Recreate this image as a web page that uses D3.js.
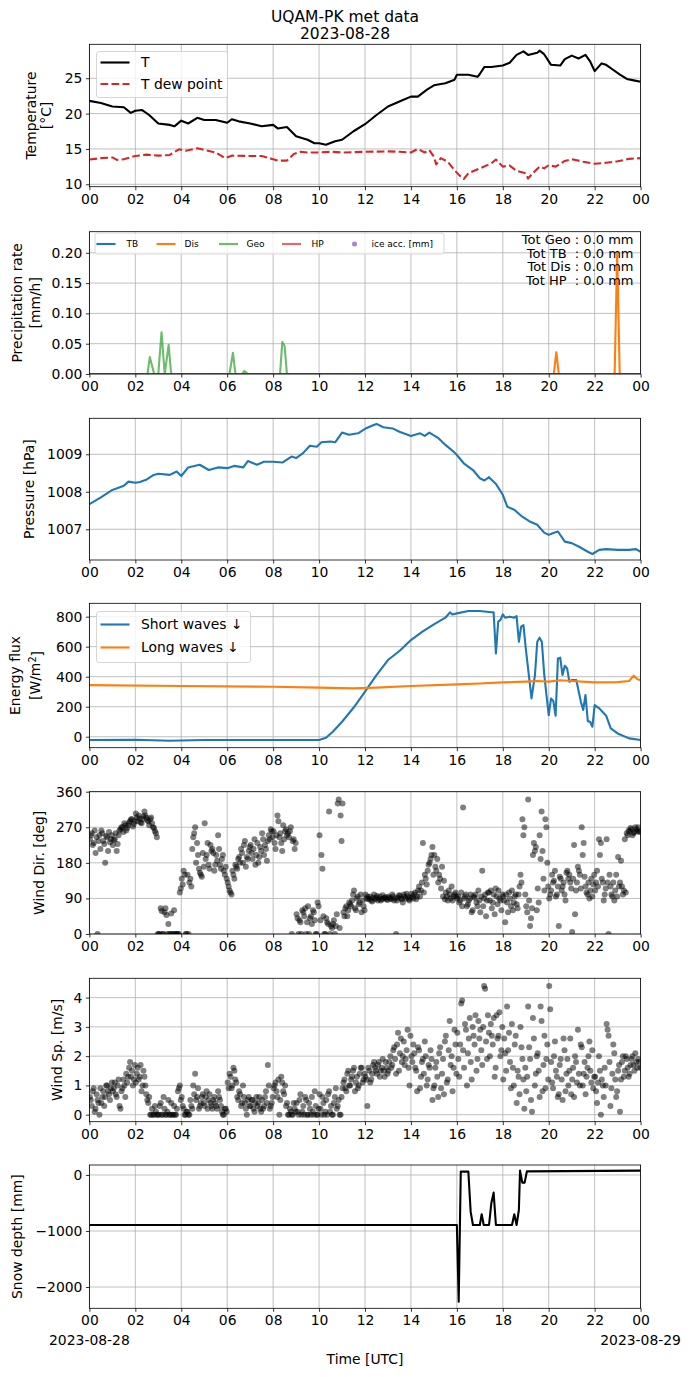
<!DOCTYPE html>
<html>
<head>
<meta charset="utf-8">
<script src="https://cdn.jsdelivr.net/npm/d3@7"></script>
<style>body{margin:0;background:#fff}</style>
</head>
<body>
<div id="chart"></div>
<script>
// ---- data (hours UTC) ----
var tHours = [0,0.5,1,1.5,1.8,2,2.3,2.6,3,3.5,3.7,4,4.3,4.7,5,5.5,6,6.2,6.5,7,7.5,8,8.2,8.6,9,9.5,9.8,10,10.3,10.7,11,11.5,12,12.5,13,13.5,14,14.3,14.7,15,15.5,15.9,16,16.5,16.9,17,17.2,17.5,18,18.3,18.6,18.9,19.1,19.5,19.6,19.8,20.1,20.5,20.7,21,21.3,21.6,21.8,22,22.3,22.5,22.8,23.1,23.4,23.7,24];
var tAir = [21.8,21.5,21.0,20.9,20.1,20.4,20.5,19.8,18.6,18.4,18.2,19.0,18.6,19.4,19.1,19.1,18.7,19.2,18.9,18.6,18.2,18.4,17.9,18.1,16.8,16.3,15.8,15.8,15.6,16.1,16.3,17.5,18.5,19.8,21.0,21.7,22.4,22.4,23.4,24.0,24.3,24.8,25.5,25.5,25.2,25.6,26.6,26.6,26.8,27.2,28.3,28.8,28.3,28.6,28.9,28.4,26.9,26.8,27.7,28.2,27.8,28.3,27.4,26.0,27.1,26.9,26.2,25.5,24.9,24.7,24.5];

var dewHours = [0,0.5,1,1.2,1.5,2,2.5,3,3.5,3.9,4.2,4.7,5,5.5,5.9,6.2,7,7.5,8,8.2,8.6,8.9,9.2,9.5,10,10.5,11,12,13,13.5,14,14.3,14.6,14.8,15,15.1,15.3,15.6,15.9,16.1,16.3,16.5,17,17.5,17.7,18,18.3,18.6,19,19.1,19.3,19.6,19.8,20,20.3,20.7,21,21.5,22,22.5,23,23.5,24];
var tDew = [13.5,13.7,13.8,13.45,13.55,14.0,14.2,14.05,14.15,14.95,14.75,15.1,14.85,14.5,13.7,14.05,14.0,14.0,13.55,13.35,13.35,14.3,14.6,14.5,14.5,14.6,14.5,14.6,14.65,14.6,14.5,15.0,14.5,14.85,13.9,12.8,13.7,13.2,12.0,11.3,10.75,11.55,12.25,12.95,13.5,12.5,12.65,11.9,11.55,10.8,11.55,12.5,12.25,12.7,12.5,13.3,13.55,13.2,12.9,13.05,13.25,13.6,13.7];

var geoHours = [0,2.53,2.63,2.82,3.0,3.14,3.28,3.45,3.56,6.1,6.25,6.36,6.65,6.75,6.9,8.3,8.4,8.5,8.6,24];
var geoRate  = [0,0,0.028,0,0,0.069,0,0.048,0,0,0.035,0,0,0.005,0,0,0.053,0.046,0,0];
var disHours = [0,20.22,20.33,20.44,22.87,22.98,23.09,24];
var disRate  = [0,0,0.036,0,0,0.2,0,0];
var tbHours = [0,24], tbRate = [0,0];
var hpHours = [0,24], hpRate = [0,0];
var totLines = ["Tot Geo : 0.0 mm","Tot TB  : 0.0 mm","Tot Dis : 0.0 mm","Tot HP  : 0.0 mm"];

var presHours = [0,0.5,1,1.5,1.7,2,2.2,2.5,2.8,3,3.5,3.8,4,4.3,4.8,5.2,5.6,6,6.3,6.7,6.9,7.3,7.6,8,8.4,8.8,9,9.3,9.6,9.9,10.1,10.5,10.7,11,11.3,11.7,12,12.3,12.5,12.8,13.2,13.5,14,14.4,14.6,14.8,15.2,15.5,15.8,16,16.3,16.7,17,17.2,17.4,17.7,18,18.2,18.5,18.8,19.2,19.5,19.8,20,20.2,20.4,20.7,21,21.3,21.7,21.9,22.2,22.5,23,23.5,23.8,24];
var pres = [1007.67,1007.85,1008.05,1008.16,1008.27,1008.24,1008.26,1008.33,1008.45,1008.48,1008.45,1008.54,1008.42,1008.65,1008.72,1008.58,1008.65,1008.63,1008.69,1008.65,1008.82,1008.72,1008.8,1008.8,1008.78,1008.94,1008.9,1009.03,1009.23,1009.2,1009.32,1009.34,1009.32,1009.58,1009.52,1009.56,1009.68,1009.76,1009.81,1009.72,1009.69,1009.6,1009.49,1009.56,1009.49,1009.58,1009.43,1009.25,1009.1,1008.98,1008.76,1008.58,1008.36,1008.3,1008.39,1008.21,1007.92,1007.6,1007.52,1007.36,1007.2,1007.12,1006.91,1006.85,1006.9,1006.94,1006.67,1006.63,1006.54,1006.4,1006.34,1006.45,1006.47,1006.45,1006.45,1006.47,1006.4];

var swHours = [0,2,3.5,5,8,10,10.3,10.6,11,11.5,12,12.5,13,13.5,14,14.5,15,15.5,15.7,15.8,16,16.5,17,17.5,17.6,17.7,17.8,17.9,18,18.1,18.3,18.5,18.6,18.7,18.8,18.9,19,19.1,19.25,19.4,19.5,19.6,19.7,19.8,19.9,20,20.1,20.2,20.3,20.4,20.5,20.6,20.7,20.8,20.9,21,21.2,21.4,21.5,21.6,21.7,21.8,21.9,22,22.2,22.5,22.7,23,23.5,24];
var swDown = [-22,-20,-27,-22,-22,-22,-7,33,100,193,300,411,511,571,644,700,749,793,829,815,822,838,838,829,829,555,767,778,815,793,800,793,804,633,733,744,589,455,255,411,633,660,633,422,278,144,255,238,140,522,527,411,473,455,366,378,378,233,178,278,104,100,67,211,189,140,56,22,-11,-22];
var lwHours = [0,4,8,10,11.5,12.5,14,16,17,18,19,19.5,20,20.5,21,22,23,23.5,23.7,23.85,24];
var lwDown = [344,338,333,327,322,327,338,349,355,362,367,371,367,376,371,362,364,371,407,384,376];

// wind: two samples in every 5-minute slot (12 slots per hour)
var windDirA = [
  240,255,230,205,0,250,262,235,180,245,258,240,
  225,240,210,250,265,270,280,262,275,285,290,278,
  305,285,292,280,298,300,288,275,295,270,260,245,
  0,65,0,55,48,25,0,0,60,0,0,105,
  140,160,0,150,130,120,245,270,230,165,150,205,
  280,200,175,225,215,160,200,250,175,190,160,170,
  130,110,100,150,175,165,195,215,180,235,195,210,
  225,190,240,200,180,220,255,200,215,235,240,260,
  260,215,300,245,230,275,260,250,245,270,235,215,
  50,0,30,60,45,0,70,40,25,55,0,80,
  250,200,45,0,30,310,20,25,0,50,340,300,
  330,45,70,60,75,85,110,60,95,80,55,70,
  100,95,90,85,92,88,96,90,85,98,92,88,
  95,90,100,85,0,92,97,88,100,90,95,85,
  102,90,105,95,120,110,230,150,125,175,190,220,
  200,160,130,140,170,135,105,85,100,120,95,105,
  90,80,105,320,95,70,85,100,60,92,80,110,
  55,160,90,45,105,85,65,100,115,75,90,60,
  95,30,80,105,70,60,95,75,100,150,290,270,
  70,340,20,65,230,220,115,250,310,140,290,180,
  90,110,130,160,100,20,140,120,100,155,140,130,
  5,225,110,170,150,270,230,120,100,90,140,125,
  110,160,240,230,130,100,240,0,120,95,85,150,
  195,130,120,110,105,250,260,265,255,270,260,258];
var windDirB = [
  250,225,262,245,235,215,255,228,248,210,232,250,
  238,255,228,262,270,258,275,268,282,290,272,285,
  295,300,282,290,310,294,285,290,280,268,255,0,
  0,58,0,65,0,0,52,0,0,0,0,115,
  125,150,0,0,140,215,255,180,200,155,145,170,
  190,230,165,210,205,175,185,215,165,200,150,140,
  120,105,160,140,170,190,180,205,225,170,190,220,
  205,215,175,230,195,210,240,225,185,250,265,245,
  230,250,285,255,210,240,265,255,260,0,240,230,
  40,35,0,55,65,30,0,45,60,35,0,70,
  35,165,0,40,25,0,15,35,20,330,15,235,
  55,65,45,80,70,100,65,90,75,100,85,60,
  90,88,95,82,100,92,85,95,88,90,93,86,
  92,88,95,90,85,98,90,80,95,102,88,92,
  95,100,88,110,95,130,105,140,160,180,200,150,
  170,190,150,115,95,88,95,110,90,85,100,95,
  95,85,70,90,100,75,90,55,95,100,70,85,
  95,70,100,85,105,110,80,50,95,110,85,100,
  85,100,55,90,110,80,100,65,120,130,250,100,
  55,85,40,200,210,60,80,190,210,110,270,120,
  100,150,135,95,120,145,110,130,85,160,150,115,
  140,50,130,160,115,200,145,105,130,110,95,150,
  130,120,200,140,85,115,130,150,100,130,110,95,
  120,185,100,240,255,262,268,250,258,265,270,260];
var windSpdA = [
  0.6,0.3,0.9,0.2,0.5,0.0,0.4,0.8,0.6,1.0,0.7,0.9,
  0.8,1.1,0.6,1.2,0.2,0.9,1.0,1.4,1.3,1.8,1.5,1.2,
  1.1,1.6,1.3,0.8,1.5,1.0,0.5,0.6,0.0,0.0,0.3,0.0,
  0.0,0.4,0.0,0.2,0.0,0.5,0.0,0.0,0.3,0.0,0.8,1.0,
  0.6,0.2,0.0,0.1,0.0,0.3,1.0,1.4,0.6,0.2,0.4,0.7,
  0.3,0.8,0.5,0.4,0.2,0.6,0.3,0.8,0.5,0.1,0.0,0.2,
  1.1,1.4,0.9,1.6,1.2,0.6,0.8,0.3,1.0,0.4,0.0,0.6,
  0.3,0.5,0.1,0.6,0.4,0.2,0.5,0.3,0.8,1.7,0.2,0.4,
  0.9,1.1,0.6,0.0,1.3,0.8,1.0,0.4,0.0,0.1,0.0,0.2,
  0.4,0.0,0.7,0.1,0.0,0.5,0.0,0.2,0.6,0.0,0.3,0.0,
  0.7,0.0,0.4,0.1,0.0,0.8,0.3,0.0,0.6,0.2,0.5,0.0,
  0.9,1.2,0.8,1.5,1.0,1.3,1.6,1.1,0.9,1.4,1.6,1.2,
  1.3,0.3,1.5,1.2,1.7,1.6,1.4,1.8,1.5,1.9,1.3,1.6,
  1.5,2.0,1.7,2.3,1.4,2.8,2.1,1.8,2.5,1.9,2.9,1.0,
  2.0,2.4,1.6,0.8,2.2,1.3,1.9,2.5,1.0,1.7,2.2,0.5,
  1.0,1.8,0.6,2.3,1.4,0.7,2.7,1.2,3.2,2.0,1.6,2.4,
  2.8,1.3,3.8,2.2,3.1,1.0,2.6,1.8,3.0,2.4,1.5,3.2,
  2.9,1.7,4.4,2.5,3.4,2.0,2.7,3.3,1.6,2.6,3.5,2.2,
  1.2,2.1,3.7,2.8,0.9,1.6,2.4,0.4,1.3,3.0,1.9,0.2,
  0.8,3.7,1.9,0.1,2.6,1.4,2.1,0.6,3.2,1.7,0.9,2.4,
  4.4,1.8,0.9,2.5,1.3,0.7,1.9,0.5,2.2,1.4,1.0,2.6,
  1.2,0.6,1.8,2.9,1.0,2.3,1.4,0.7,1.6,2.5,1.1,0.9,
  1.3,0.4,2.0,0.0,1.0,1.6,3.1,2.7,0.3,1.4,2.1,0.6,
  1.5,0.1,1.8,1.3,2.0,1.6,1.4,1.9,1.7,2.1,1.6,1.8];
var windSpdB = [
  0.5,0.8,0.1,0.7,0.4,0.9,0.6,0.3,1.0,0.8,0.5,1.1,
  0.9,0.7,1.0,0.3,0.8,1.2,0.6,1.1,1.6,1.3,1.0,1.7,
  1.4,1.2,1.7,1.0,1.3,0.7,0.4,0.0,0.2,0.0,0.1,0.0,
  0.3,0.0,0.6,0.0,0.1,0.0,0.4,0.0,0.0,0.2,0.9,0.5,
  0.3,0.0,0.1,0.0,0.5,0.2,0.7,0.5,0.9,0.3,0.6,0.4,
  0.6,0.2,0.7,0.3,0.5,0.4,0.2,0.6,0.3,0.0,0.2,0.1,
  0.9,1.3,1.0,1.5,1.1,0.5,0.7,0.4,0.6,0.2,0.5,0.3,
  0.5,0.2,0.4,0.3,0.6,0.1,0.2,0.6,0.4,1.0,0.3,0.6,
  1.0,0.8,1.2,0.5,1.1,0.7,0.3,0.0,0.2,0.0,0.4,0.1,
  0.1,0.5,0.0,0.3,0.6,0.0,0.4,0.0,0.1,0.8,0.0,0.2,
  0.2,0.6,0.0,0.5,0.7,0.1,0.0,0.4,0.9,0.3,0.0,0.6,
  1.1,0.9,1.4,1.0,1.2,1.5,0.8,1.3,1.0,1.6,1.1,1.4,
  1.2,1.6,1.1,1.4,1.8,1.5,1.7,1.3,1.6,1.5,1.8,1.4,
  1.8,1.6,2.2,1.9,2.4,1.5,2.6,2.0,1.7,2.2,1.6,2.7,
  1.8,2.1,1.5,2.3,0.9,1.8,1.4,2.0,1.2,1.6,1.9,0.9,
  1.6,1.3,2.1,0.9,1.9,2.5,1.1,2.2,1.7,0.8,2.9,1.4,
  1.9,2.4,3.9,1.6,2.9,2.1,3.3,1.2,2.7,3.4,1.9,2.6,
  2.2,3.0,4.3,1.9,2.8,3.1,2.4,1.3,3.4,2.7,2.0,3.0,
  2.6,1.5,2.2,1.8,3.1,1.0,2.7,1.5,0.7,2.3,1.2,1.6,
  1.3,2.3,0.5,3.3,1.0,2.0,1.5,3.7,0.8,2.7,1.9,1.2,
  3.6,1.1,2.0,1.5,0.6,1.7,1.2,2.6,0.8,1.9,1.5,0.7,
  1.6,2.0,1.1,1.4,2.4,1.0,1.8,1.3,2.0,1.5,2.2,1.3,
  0.8,1.1,1.5,1.2,0.6,1.0,2.9,1.8,0.9,2.4,1.2,0.8,
  1.7,1.2,2.0,1.5,1.9,1.3,1.7,2.0,1.5,1.8,1.9,1.6];

var snowHours = [0,16.0,16.08,16.17,16.5,16.6,16.7,17.0,17.08,17.17,17.4,17.5,17.6,17.7,18.4,18.5,18.6,18.7,18.75,18.85,18.95,19.05,24];
var snowDepth = [-893,-893,-2262,60,60,-655,-893,-893,-702,-893,-893,-506,-315,-893,-893,-702,-893,-625,77,-137,-137,65,77];

var xTicks = d3.range(0, 25, 2);

// ---- layout ----
var W = 690, H = 1377;
var font = "DejaVu Sans";
var svg = d3.select("#chart").append("svg")
  .attr("width", W).attr("height", H)
  .style("font-family", font);

var x = d3.scaleLinear().domain([0, 24]).range([89.4, 640.6]);

svg.append("text").attr("x", 345).attr("y", 22).attr("text-anchor", "middle")
  .style("font-size", "15.5px").text("UQAM-PK met data");
svg.append("text").attr("x", 345).attr("y", 39).attr("text-anchor", "middle")
  .style("font-size", "15.5px").text("2023-08-28");

var nPanel = 0;
function panel(top, bottom, domain, ticks, fmt, labels) {
  var y = d3.scaleLinear().domain(domain).range([bottom, top]);
  var g = svg.append("g");
  var id = "clip" + (nPanel++);
  svg.append("clipPath").attr("id", id).append("rect")
    .attr("x", x.range()[0]).attr("y", top)
    .attr("width", x.range()[1] - x.range()[0]).attr("height", bottom - top);

  // grid
  g.append("g").selectAll("line").data(xTicks).enter().append("line")
    .attr("x1", d => x(d)).attr("x2", d => x(d)).attr("y1", top).attr("y2", bottom)
    .attr("stroke", "#b0b0b0").attr("stroke-width", 0.8);
  g.append("g").selectAll("line").data(ticks).enter().append("line")
    .attr("x1", x.range()[0]).attr("x2", x.range()[1]).attr("y1", d => y(d)).attr("y2", d => y(d))
    .attr("stroke", "#b0b0b0").attr("stroke-width", 0.8);

  var plot = g.append("g").attr("clip-path", "url(#" + id + ")");

  // frame
  g.append("rect").attr("x", x.range()[0]).attr("y", top)
    .attr("width", x.range()[1] - x.range()[0]).attr("height", bottom - top)
    .attr("fill", "none").attr("stroke", "black").attr("stroke-width", 0.8);

  var ya = g.append("g").attr("transform", "translate(" + x.range()[0] + ",0)")
    .call(d3.axisLeft(y).tickValues(ticks).tickFormat(fmt).tickSize(3.5).tickPadding(3.5));
  var xa = g.append("g").attr("transform", "translate(0," + bottom + ")")
    .call(d3.axisBottom(x).tickValues(xTicks)
      .tickFormat(d => String(d % 24).padStart(2, "0")).tickSize(3.5).tickPadding(3.5));
  [ya, xa].forEach(function(a) {
    a.select(".domain").remove();
    a.selectAll("line").attr("stroke-width", 0.8);
    a.selectAll("text").style("font-size", "13.9px").style("font-family", font).attr("fill", "black");
  });

  labels.forEach(function(l) {
    var t = g.append("text")
      .attr("transform", "translate(" + l[1] + "," + (top + bottom) / 2 + ") rotate(-90)")
      .attr("text-anchor", "middle").attr("dy", "0.35em")
      .style("font-size", "13.9px");
    if (l[2]) {
      t.append("tspan").text(l[0]);
      t.append("tspan").attr("dy", "-0.45em").style("font-size", "9.7px").text(l[2]);
      t.append("tspan").attr("dy", "0.45em").text(l[3]);
    } else {
      t.text(l[0]);
    }
  });
  return { g: g, plot: plot, y: y, top: top, bottom: bottom };
}

function drawLine(p, xs, ys, color, width, dash, opacity) {
  var pts = xs.map((h, i) => [h, ys[i]]);
  var path = p.plot.append("path").datum(pts)
    .attr("d", d3.line().x(d => x(d[0])).y(d => p.y(d[1])))
    .attr("fill", "none").attr("stroke", color).attr("stroke-width", width)
    .attr("stroke-linejoin", "round");
  if (dash) path.attr("stroke-dasharray", dash);
  if (opacity) path.attr("stroke-opacity", opacity);
}

function drawDots(p, vals, offset) {
  p.plot.append("g").selectAll("circle").data(vals).enter().append("circle")
    .attr("cx", (d, i) => x(i / 12 + offset)).attr("cy", d => p.y(d)).attr("r", 3)
    .attr("fill", "black").attr("fill-opacity", 0.5);
}

function legend(g, x0, y0, w, h, items, fs, handleLen, rowY) {
  g.append("rect").attr("x", x0).attr("y", y0).attr("width", w).attr("height", h)
    .attr("rx", 2.5).attr("fill", "white").attr("fill-opacity", 0.8)
    .attr("stroke", "#cccccc").attr("stroke-width", 0.8);
  items.forEach(function(it, i) {
    var hx = it.hx, yy = rowY[i];
    if (it.marker) {
      g.append("circle").attr("cx", hx + handleLen / 2).attr("cy", yy).attr("r", 2.5)
        .attr("fill", it.color).attr("fill-opacity", 0.8);
    } else {
      var ln = g.append("line").attr("x1", hx).attr("x2", hx + handleLen).attr("y1", yy).attr("y2", yy)
        .attr("stroke", it.color).attr("stroke-width", it.width || 2.1);
      if (it.dash) ln.attr("stroke-dasharray", it.dash);
      if (it.opacity) ln.attr("stroke-opacity", it.opacity);
    }
    g.append("text").attr("x", it.tx).attr("y", yy).attr("dy", "0.35em")
      .style("font-size", fs + "px").text(it.label);
  });
}

// ---- panel 1: temperature ----
var p1 = panel(44.3, 186.7, [9.66, 29.8], [10, 15, 20, 25], d3.format("d"),
  [["Temperature", 31], ["[°C]", 46.5]]);
drawLine(p1, tHours, tAir, "black", 2.1);
drawLine(p1, dewHours, tDew, "#d62728", 2.1, "7.7,3.3");
legend(p1.g, 96.5, 51.5, 131, 46, [
  { label: "T", color: "black", hx: 100.5, tx: 141 },
  { label: "T dew point", color: "#d62728", dash: "7.7,3.3", hx: 100.5, tx: 141 }
], 13.9, 29, [62.5, 84]);

// ---- panel 2: precipitation ----
var p2 = panel(231.7, 374, [0, 0.2348], [0, 0.05, 0.1, 0.15, 0.2], d3.format(".2f"),
  [["Precipitation rate", 17.5], ["[mm/h]", 35]]);
drawLine(p2, tbHours, tbRate, "#1f77b4", 2.1);
drawLine(p2, disHours, disRate, "#ff7f0e", 2.1);
drawLine(p2, geoHours, geoRate, "#2ca02c", 2.1, null, 0.7);
drawLine(p2, hpHours, hpRate, "#d62728", 2.1, null, 0.7);
legend(p2.g, 95, 233, 349, 21, [
  { label: "TB", color: "#1f77b4", hx: 96.5, tx: 126.5 },
  { label: "Dis", color: "#ff7f0e", hx: 156.5, tx: 184.5 },
  { label: "Geo", color: "#2ca02c", opacity: 0.7, hx: 219, tx: 246.5 },
  { label: "HP", color: "#d62728", opacity: 0.7, hx: 282, tx: 311.5 },
  { label: "ice acc. [mm]", color: "#9467bd", marker: true, hx: 345, tx: 371.5 }
], 9, 19, [244, 244, 244, 244, 244]);
p2.g.selectAll(".tot").data(totLines).enter().append("text")
  .attr("x", 633.5).attr("y", (d, i) => 244 + i * 13.7)
  .attr("text-anchor", "end").style("font-size", "13px")
  .style("white-space", "pre").attr("xml:space", "preserve")
  .text(d => d);

// ---- panel 3: pressure ----
var p3 = panel(418.3, 560, [1006.18, 1009.96], [1007, 1008, 1009], d3.format("d"),
  [["Pressure [hPa]", 29]]);
drawLine(p3, presHours, pres, "#1f77b4", 2.1);

// ---- panel 4: radiation ----
var p4 = panel(603.3, 747.7, [-73, 889], [0, 200, 400, 600, 800], d3.format("d"),
  [["Energy flux", 15.5], ["[W/m", 35, "2", "]"]]);
drawLine(p4, swHours, swDown, "#1f77b4", 2.1);
drawLine(p4, lwHours, lwDown, "#ff7f0e", 2.1);
legend(p4.g, 96.5, 611.5, 154, 51, [
  { label: "Short waves ↓", color: "#1f77b4", hx: 100.5, tx: 141 },
  { label: "Long waves ↓", color: "#ff7f0e", hx: 100.5, tx: 141 }
], 13.9, 29, [624.5, 647.5]);

// ---- panel 5: wind direction ----
var p5 = panel(791.7, 934, [0, 360], [0, 90, 180, 270, 360], d3.format("d"),
  [["Wind Dir. [deg]", 39]]);
drawDots(p5, windDirA, 1 / 48);
drawDots(p5, windDirB, 3 / 48);

// ---- panel 6: wind speed ----
var p6 = panel(978.3, 1121.7, [-0.24, 4.66], [0, 1, 2, 3, 4], d3.format("d"),
  [["Wind Sp. [m/s]", 57]]);
drawDots(p6, windSpdA, 1 / 48);
drawDots(p6, windSpdB, 3 / 48);

// ---- panel 7: snow depth ----
var p7 = panel(1165, 1308.3, [-2380, 178], [-2000, -1000, 0],
  d => d3.format("d")(d).replace("-", "\u2212"),
  [["Snow depth [mm]", 17]]);
drawLine(p7, snowHours, snowDepth, "black", 2.1);

svg.append("text").attr("x", x(0)).attr("y", 1345).attr("text-anchor", "middle")
  .style("font-size", "13.9px").text("2023-08-28");
svg.append("text").attr("x", x(24)).attr("y", 1345).attr("text-anchor", "middle")
  .style("font-size", "13.9px").text("2023-08-29");
svg.append("text").attr("x", 365).attr("y", 1364).attr("text-anchor", "middle")
  .style("font-size", "13.9px").text("Time [UTC]");
</script>
</body>
</html>
